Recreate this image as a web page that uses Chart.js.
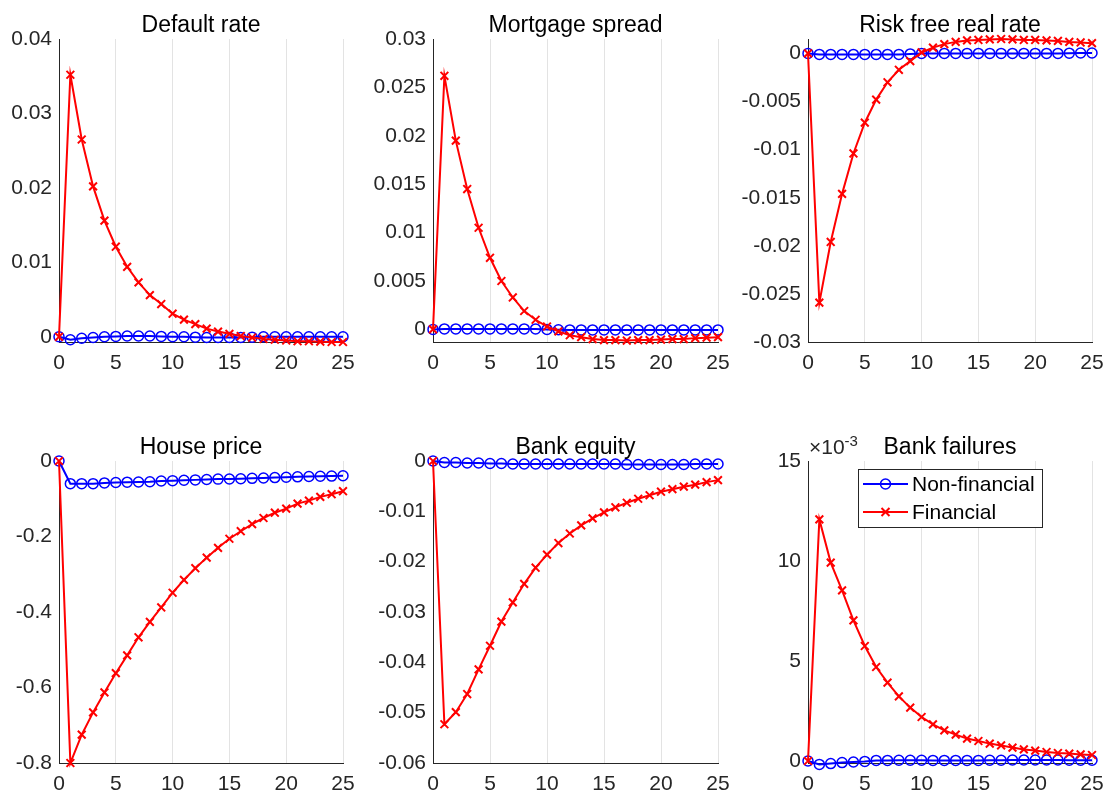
<!DOCTYPE html>
<html>
<head>
<meta charset="utf-8">
<script src="https://cdn.jsdelivr.net/npm/chart.js@4.4.0/dist/chart.umd.min.js"></script>
<style>
  html, body { margin: 0; padding: 0; background: #fff; }
  #fig { position: relative; width: 1105px; height: 795px; overflow: hidden; }
  #fig canvas { position: absolute; }
</style>
</head>
<body>
<div id="fig"></div>
<script>
// horizon (quarters)
const periods = [0, 1, 2, 3, 4, 5, 6, 7, 8, 9, 10, 11, 12, 13, 14, 15, 16, 17, 18, 19, 20, 21, 22, 23, 24, 25];
const seriesNames = ['Non-financial', 'Financial'];

// Default rate
const defaultNonFin = [0, -0.0004, -0.0002, -0.0001, 0, 0.00005, 0.0001, 0.0001, 0.0001, 0.00005, 0, 0, -0.00005, -0.0001, -0.0001, -0.0001, -0.0001, -0.00005, 0, 0, 0, 0, 0, 0, 0, 0];
const defaultFin = [0, 0.0352, 0.0265, 0.0202, 0.0156, 0.0121, 0.0094, 0.0073, 0.0056, 0.0044, 0.0031, 0.0023, 0.0017, 0.0011, 0.0007, 0.0004, 0.0001, -0.0001, -0.0003, -0.0004, -0.0005, -0.0006, -0.0006, -0.00065, -0.0007, -0.0007];
const defaultTicks = [0, 0.01, 0.02, 0.03, 0.04];

// Mortgage spread
const spreadNonFin = [0, 0.00005, 0.00005, 0.00005, 0.00005, 0.00005, 0.00005, 0.00005, 0.00005, 0.00005, 0, -0.00003, -0.00005, -0.00005, -0.00005, -0.00005, -0.00005, -0.00005, -0.00005, -0.00005, -0.00005, -0.00005, -0.00005, -0.00005, -0.00005, -0.00005];
const spreadFin = [0, 0.0262, 0.0195, 0.0145, 0.0105, 0.0074, 0.0050, 0.0033, 0.0019, 0.0010, 0.0003, -0.0002, -0.0006, -0.0008, -0.0010, -0.0011, -0.0011, -0.00115, -0.0011, -0.0011, -0.00105, -0.0010, -0.0010, -0.0009, -0.00085, -0.0008];
const spreadTicks = [0, 0.005, 0.01, 0.015, 0.02, 0.025, 0.03];

// Risk free real rate
const rateNonFin = [0, -0.0001, -0.0001, -0.0001, -0.0001, -0.0001, -0.0001, -0.0001, -0.0001, -0.00005, 0, 0, 0, 0, 0, 0, 0, 0, 0, 0, 0, 0, 0, 0.00003, 0.00005, 0.00005];
const rateFin = [0, -0.0259, -0.0196, -0.0146, -0.0104, -0.0072, -0.0048, -0.0030, -0.0017, -0.0008, 0.0001, 0.0006, 0.00097, 0.0012, 0.00135, 0.0014, 0.00146, 0.0015, 0.00146, 0.0014, 0.0014, 0.00135, 0.0013, 0.0012, 0.00114, 0.00107];
const rateTicks = [-0.03, -0.025, -0.02, -0.015, -0.01, -0.005, 0];

// House price
const houseNonFin = [0, -0.06, -0.06, -0.06, -0.058, -0.057, -0.056, -0.0555, -0.055, -0.053, -0.052, -0.051, -0.05, -0.049, -0.048, -0.0476, -0.047, -0.046, -0.045, -0.044, -0.043, -0.042, -0.041, -0.0405, -0.04, -0.039];
const houseFin = [0, -0.8, -0.725, -0.666, -0.613, -0.562, -0.515, -0.467, -0.426, -0.388, -0.349, -0.315, -0.284, -0.256, -0.23, -0.206, -0.186, -0.167, -0.151, -0.137, -0.126, -0.113, -0.105, -0.095, -0.088, -0.08];
const houseTicks = [-0.8, -0.6, -0.4, -0.2, 0];

// Bank equity
const equityNonFin = [0, -0.0003, -0.0003, -0.0004, -0.0004, -0.0005, -0.0005, -0.0006, -0.0006, -0.0006, -0.0006, -0.0006, -0.0006, -0.0006, -0.0006, -0.0006, -0.0006, -0.0007, -0.0007, -0.0007, -0.0007, -0.0007, -0.0007, -0.0006, -0.0006, -0.0006];
const equityFin = [0, -0.0523, -0.0499, -0.0463, -0.0414, -0.0367, -0.0319, -0.0281, -0.0244, -0.0212, -0.0186, -0.0163, -0.0144, -0.0128, -0.0114, -0.0102, -0.0092, -0.0083, -0.0075, -0.0068, -0.0061, -0.0056, -0.0051, -0.0047, -0.0042, -0.0038];
const equityTicks = [-0.06, -0.05, -0.04, -0.03, -0.02, -0.01, 0];

// Bank failures
const failNonFin = [0, -0.00017, -0.00013, -0.00008, -0.00005, -0.00002, 0.00003, 0.00003, 0.00004, 0.00004, 0.00004, 0.00003, 0.00003, 0.00003, 0.00003, 0.00003, 0.00004, 0.00004, 0.00005, 0.00005, 0.00005, 0.00005, 0.00005, 0.00004, 0.00004, 0.00004];
const failFin = [0, 0.01208, 0.00992, 0.00853, 0.00703, 0.00575, 0.0047, 0.00392, 0.00323, 0.00267, 0.0022, 0.00183, 0.00153, 0.00132, 0.00112, 0.001, 0.00087, 0.00078, 0.00067, 0.00058, 0.00052, 0.00045, 0.0004, 0.00037, 0.00033, 0.0003];
const failTicks = [0, 0.005, 0.01, 0.015];

const FONT = '"Liberation Sans", Arial, Helvetica, sans-serif';
const AXIS_COLOR = '#262626';
const BLUE = '#0000ff';
const RED = '#ff0000';
const PAD = { left: 85, top: 40, right: 22, bottom: 38 };
const TICK_SIZE = 21;
const TITLE_SIZE = 23;

const panels = [
  { title: 'Default rate', left: 59, top: 39, width: 284, height: 303, min: -0.0007, max: 0.04, ticks: defaultTicks, nonFin: defaultNonFin, fin: defaultFin },
  { title: 'Mortgage spread', left: 433, top: 39, width: 285, height: 303, min: -0.0013, max: 0.03, ticks: spreadTicks, nonFin: spreadNonFin, fin: spreadFin },
  { title: 'Risk free real rate', left: 808, top: 39, width: 284, height: 303, min: -0.03, max: 0.0015, ticks: rateTicks, nonFin: rateNonFin, fin: rateFin },
  { title: 'House price', left: 59, top: 461, width: 284, height: 302, min: -0.8, max: 0, ticks: houseTicks, nonFin: houseNonFin, fin: houseFin },
  { title: 'Bank equity', left: 433, top: 461, width: 285, height: 302, min: -0.06, max: 0, ticks: equityTicks, nonFin: equityNonFin, fin: equityFin },
  { title: 'Bank failures', left: 808, top: 461, width: 284, height: 302, min: -0.0001, max: 0.015, ticks: failTicks, nonFin: failNonFin, fin: failFin, exponent: -3, legend: true }
];

function drawCircle(ctx, x, y) {
  ctx.beginPath();
  ctx.arc(x, y, 5, 0, Math.PI * 2);
  ctx.stroke();
}

function drawCross(ctx, x, y) {
  const r = 4;
  ctx.beginPath();
  ctx.moveTo(x - r, y - r); ctx.lineTo(x + r, y + r);
  ctx.moveTo(x - r, y + r); ctx.lineTo(x + r, y - r);
  ctx.stroke();
}

// title, exponent label and legend drawn on top of each panel
const panelDecor = {
  id: 'panelDecor',
  afterDraw(chart, args, opts) {
    const { ctx, chartArea: a } = chart;
    ctx.save();
    ctx.fillStyle = '#000';
    ctx.font = `${TITLE_SIZE}px ${FONT}`;
    ctx.textAlign = 'center';
    ctx.textBaseline = 'alphabetic';
    ctx.fillText(opts.title, (a.left + a.right) / 2, a.top - 7);

    if (opts.exponent) {
      ctx.fillStyle = AXIS_COLOR;
      ctx.textAlign = 'left';
      ctx.font = `${TICK_SIZE}px ${FONT}`;
      const base = '\u00d710';
      ctx.fillText(base, a.left + 1, a.top - 7);
      const w = ctx.measureText(base).width;
      ctx.font = `15px ${FONT}`;
      ctx.fillText(String(opts.exponent), a.left + 1 + w, a.top - 15);
    }

    if (opts.legend) {
      const bx = a.left + 50, by = a.top + 8;
      ctx.fillStyle = '#fff';
      ctx.fillRect(bx, by, 184, 58);
      ctx.strokeStyle = AXIS_COLOR;
      ctx.lineWidth = 1;
      ctx.strokeRect(bx + 0.5, by + 0.5, 184, 58);
      const rows = [
        { y: a.top + 23, color: BLUE, marker: drawCircle, text: seriesNames[0] },
        { y: a.top + 51, color: RED, marker: drawCross, text: seriesNames[1] }
      ];
      ctx.font = `${TICK_SIZE}px ${FONT}`;
      ctx.textBaseline = 'middle';
      rows.forEach(r => {
        ctx.strokeStyle = r.color;
        ctx.lineWidth = 2;
        ctx.beginPath();
        ctx.moveTo(a.left + 55, r.y);
        ctx.lineTo(a.left + 100, r.y);
        ctx.stroke();
        ctx.lineWidth = r.marker === drawCircle ? 1.5 : 2;
        r.marker(ctx, a.left + 77.5, r.y);
        ctx.fillStyle = '#000';
        ctx.fillText(r.text, a.left + 104, r.y + 1);
      });
    }
    ctx.restore();
  }
};

function formatTick(v, p) {
  if (p.exponent) return String(Math.round(v / Math.pow(10, p.exponent)));
  return String(parseFloat(v.toFixed(4)));
}

const fig = document.getElementById('fig');

panels.forEach(p => {
  const canvas = document.createElement('canvas');
  const w = p.width + PAD.left + PAD.right;
  const h = p.height + PAD.top + PAD.bottom;
  canvas.width = w;
  canvas.height = h;
  canvas.style.width = w + 'px';
  canvas.style.height = h + 'px';
  canvas.style.left = (p.left - PAD.left) + 'px';
  canvas.style.top = (p.top - PAD.top) + 'px';
  fig.appendChild(canvas);

  new Chart(canvas.getContext('2d'), {
    type: 'line',
    data: {
      datasets: [
        {
          label: seriesNames[0],
          data: periods.map((t, i) => ({ x: t, y: p.nonFin[i] })),
          borderColor: BLUE,
          borderWidth: 2,
          pointStyle: 'circle',
          pointRadius: 5,
          pointBorderWidth: 1.5,
          pointBorderColor: BLUE,
          pointBackgroundColor: 'rgba(0,0,0,0)',
          tension: 0,
          clip: false,
          order: 1
        },
        {
          label: seriesNames[1],
          data: periods.map((t, i) => ({ x: t, y: p.fin[i] })),
          borderColor: RED,
          borderWidth: 2,
          pointStyle: 'crossRot',
          pointRadius: 5.5,
          pointBorderWidth: 2,
          pointBorderColor: RED,
          pointBackgroundColor: RED,
          tension: 0,
          clip: false,
          order: 0
        }
      ]
    },
    options: {
      responsive: false,
      animation: false,
      events: [],
      layout: { padding: { top: PAD.top, right: PAD.right, left: 0, bottom: 0 } },
      plugins: {
        legend: { display: false },
        tooltip: { enabled: false },
        panelDecor: { title: p.title, exponent: p.exponent, legend: p.legend }
      },
      scales: {
        x: {
          type: 'linear',
          min: 0,
          max: 25,
          ticks: { stepSize: 5, color: AXIS_COLOR, font: { family: FONT, size: TICK_SIZE }, padding: 9, maxRotation: 0 },
          grid: { color: '#e3e3e3', lineWidth: 1, drawTicks: false },
          border: { color: AXIS_COLOR, width: 1 },
          afterFit: s => { s.height = PAD.bottom; }
        },
        y: {
          type: 'linear',
          min: p.min,
          max: p.max,
          afterBuildTicks: s => { s.ticks = p.ticks.map(v => ({ value: v })); },
          ticks: { autoSkip: false, color: AXIS_COLOR, font: { family: FONT, size: TICK_SIZE }, padding: 7, callback: v => formatTick(v, p) },
          grid: { display: false, drawTicks: false },
          border: { color: AXIS_COLOR, width: 1 },
          afterFit: s => { s.width = PAD.left; }
        }
      }
    },
    plugins: [panelDecor]
  });
});
</script>
</body>
</html>
